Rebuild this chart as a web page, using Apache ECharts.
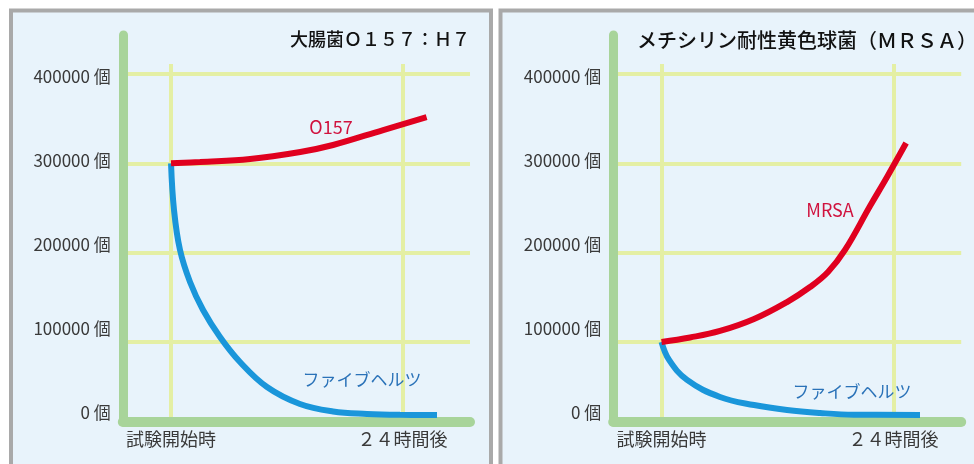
<!DOCTYPE html>
<html><head><meta charset="utf-8">
<script src="https://cdn.jsdelivr.net/npm/echarts@6/dist/echarts.min.js"></script>
<style>html,body{margin:0;padding:0;background:#fff}#c{width:974px;height:464px}</style>
</head><body><div id="c"></div>
<script>
// ---- data ----
const yTicks = [0, 100000, 200000, 300000, 400000];
const yUnit = '個';
const xTickHours = [0, 24];
const xTickLabels = ['試験開始時', '２４時間後'];
const panelTitles = ['大腸菌Ｏ１５７：Ｈ７', 'メチシリン耐性黄色球菌（ＭＲＳＡ）'];
const seriesNames = ['O157', 'ファイブヘルツ', 'MRSA', 'ファイブヘルツ'];

const o157Hours  = [0, 3.0, 8.2, 13.4, 16.8, 22.0, 26.5];
const o157Values = [300000, 301500, 304800, 312700, 320500, 337300, 351800];
const five1Hours  = [0, 0.31, 0.93, 1.97, 3.32, 5.08, 7.15, 9.95, 13.37, 16.8, 20.32, 23.74, 27.58];
const five1Values = [300000, 247700, 203000, 167100, 135800, 105600, 77600, 49600, 30600, 22200, 19400, 18400, 18200];
const mrsaHours  = [0, 2.95, 6.05, 9.57, 12.98, 15.36, 17.22, 18.98, 21.57, 23.33, 25.3];
const mrsaValues = [100000, 105000, 112300, 125700, 144700, 161500, 178300, 203000, 252200, 284700, 322700];
const five2Hours  = [0, 0.78, 2.64, 6.05, 9.57, 12.98, 16.4, 19.91, 26.74];
const five2Values = [100000, 79900, 57500, 38400, 29400, 23800, 20500, 18600, 18300];

// ---- styling / layout ----
const FONT = "'Noto Sans CJK JP', 'Noto Sans', sans-serif";
const RED = '#e0001f', BLUE = '#1a96da';
const BAR = '#a8d49a', GRIDC = '#e4efa4';
const zip = (a, b) => a.map((v, i) => [v, b[i]]);

const panels = [
  {a: {left: 122.8, right: 504}, c: {left: 171, right: 571.5}},
  {a: {left: 613.2, right: 12.8}, c: {left: 661.5, right: 80.5}}
];

const grid = [], xAxis = [], yAxis = [];
panels.forEach((p, i) => {
  grid.push({left: p.a.left, right: p.a.right, top: 74, bottom: 32.7});     // data grid
  grid.push({left: p.a.left, right: p.a.right, top: 35, bottom: 42});       // frame + labels
  grid.push({left: p.c.left, right: p.c.right, top: 64, bottom: 42});       // vertical grid lines
  const g = i * 3;
  xAxis.push({type: 'value', gridIndex: g, min: -5, max: 31, show: true,
    axisLine: {show: false}, axisTick: {show: false}, axisLabel: {show: false}, splitLine: {show: false}});
  yAxis.push({type: 'value', gridIndex: g, min: 0, max: 400000, interval: 100000,
    axisLine: {show: false}, axisTick: {show: false}, axisLabel: {show: false},
    splitLine: {show: true, showMinLine: false, showMaxLine: true, lineStyle: {color: GRIDC, width: 4}}});
  xAxis.push({type: 'value', gridIndex: g + 1, min: -5, max: 31, z: 3,
    axisLine: {show: true, onZero: false, lineStyle: {color: BAR, width: 10}},
    axisTick: {show: false}, splitLine: {show: false},
    axisLabel: {show: true, customValues: xTickHours, margin: 8, color: '#3a3a3a', fontSize: 18, fontFamily: FONT,
      formatter: v => xTickLabels[xTickHours.indexOf(v)] || ''}});
  yAxis.push({type: 'value', gridIndex: g + 1, min: -11310, max: 449405, z: 3,
    axisLine: {show: true, onZero: false, lineStyle: {color: BAR, width: 9}},
    axisTick: {show: false}, splitLine: {show: false},
    axisLabel: {show: true, customValues: yTicks, margin: 12, color: '#3a3a3a', fontSize: 17, fontFamily: FONT,
      formatter: v => v + ' ' + yUnit}});
  xAxis.push({type: 'value', gridIndex: g + 2, min: 0, max: 24, interval: 24,
    axisLine: {show: false}, axisTick: {show: false}, axisLabel: {show: false},
    splitLine: {show: true, showMinLine: true, showMaxLine: true, lineStyle: {color: GRIDC, width: 4}}});
  yAxis.push({type: 'value', gridIndex: g + 2, min: 0, max: 1, show: false, splitLine: {show: false}});
});

const lineSeries = (name, data, color, axisIdx) => ({
  type: 'line', name, data, xAxisIndex: axisIdx, yAxisIndex: axisIdx,
  smooth: 0.4, symbol: 'none', z: 5,
  lineStyle: {color, width: 6, cap: 'butt'}, animation: false
});

const series = [
  lineSeries(seriesNames[1], zip(five1Hours, five1Values), BLUE, 0),
  lineSeries(seriesNames[0], zip(o157Hours, o157Values), RED, 0),
  lineSeries(seriesNames[3], zip(five2Hours, five2Values), BLUE, 3),
  lineSeries(seriesNames[2], zip(mrsaHours, mrsaValues), RED, 3)
];

const txt = (text, x, y, opts) => ({type: 'text', x, y, z: 10, style: Object.assign({
  text, font: `17px ${FONT}`, fill: '#333', align: 'center', verticalAlign: 'middle'}, opts)});

const graphic = [
  {type: 'rect', z: -10, shape: {x: 11, y: 10.5, width: 480, height: 480}, style: {fill: '#e8f3fb', stroke: '#a9a9a9', lineWidth: 4}},
  {type: 'rect', z: -10, shape: {x: 500.5, y: 10.5, width: 480, height: 480}, style: {fill: '#e8f3fb', stroke: '#a9a9a9', lineWidth: 4}},
  txt(panelTitles[0], 470, 39, {align: 'right', font: `500 18px ${FONT}`, fill: '#111'}),
  txt(panelTitles[1], 637, 40, {align: 'left', font: `500 20px ${FONT}`, fill: '#111'}),
  txt(seriesNames[0], 331, 127, {fill: '#d0123e', font: `18px ${FONT}`}),
  txt(seriesNames[1], 362, 380, {fill: '#2a72b8'}),
  txt(seriesNames[2], 830, 210, {fill: '#d0123e', font: `18px ${FONT}`}),
  txt(seriesNames[3], 852, 392, {fill: '#2a72b8'})
];

const chart = echarts.init(document.getElementById('c'), null, {renderer: 'canvas'});
chart.setOption({backgroundColor: '#fff', animation: false, grid, xAxis, yAxis, series, graphic});
</script></body></html>
